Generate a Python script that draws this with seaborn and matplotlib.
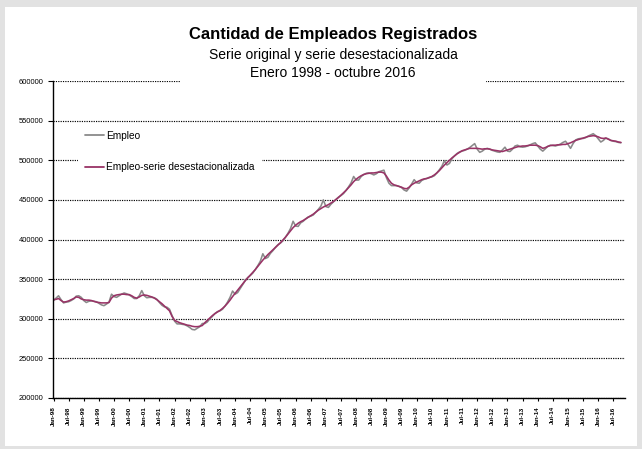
import matplotlib
matplotlib.use("Agg")
import matplotlib.pyplot as plt
import seaborn as sns
import pandas as pd
from matplotlib import font_manager
from matplotlib.patches import Rectangle
from matplotlib.ticker import FuncFormatter, FixedLocator

# ---------------- data (thousands of employees, monthly Jan-1998 .. Oct-2016) ----------------
empleo = [
    323, 326, 329, 324, 320, 321, 321.5, 323, 325, 328.5, 329, 327,            # 1998
    323, 320.5, 322, 322.5, 322, 321.5, 319.5, 317.5, 316.5, 318.5, 321, 331,  # 1999
    328, 327, 329, 331, 332.5, 331.5, 330, 328, 325.5, 325.5, 329, 335.5,      # 2000
    329, 326.5, 327, 327, 326.5, 324.5, 320.5, 317, 315, 314.5, 312, 304,      # 2001
    297, 293.5, 293.5, 293, 292.5, 291, 289, 286.5, 286, 288, 290, 294,        # 2002
    294, 296, 300, 303, 306.5, 309, 310, 312, 316, 321, 327, 335,              # 2003
    331, 333, 338, 343, 348, 352, 354.5, 357.5, 362, 367, 372.5, 382,          # 2004
    376, 377.5, 382.5, 386, 390, 393.5, 395.5, 398.5, 403, 408, 414, 423,      # 2005
    417, 416.5, 421, 423, 426, 428.5, 429.5, 431, 434.5, 438, 442, 450,        # 2006
    441.5, 440.5, 444.5, 447.5, 450.5, 453.5, 455.5, 458, 462, 466.5, 471.5, 479.5,  # 2007
    475, 475, 479.5, 482, 483.5, 484, 483, 481.5, 483, 485.5, 486.5, 487.5,    # 2008
    478, 471, 468, 468, 468, 467, 465.5, 462.5, 461, 465, 470, 475.5,          # 2009
    471.5, 471, 474.5, 476, 477, 478.5, 479, 480.5, 484, 488, 492.5, 499.5,    # 2010
    494, 496, 502, 505.5, 508.5, 510.5, 511.5, 512.5, 514, 516, 518.5, 521,    # 2011
    514, 510, 511.5, 514, 515, 514, 512.5, 511.5, 510.5, 510, 513, 516.5,      # 2012
    511.5, 511, 514, 518, 519, 517, 516.5, 517, 518, 519.5, 521, 522,          # 2013
    518, 514, 511.5, 514.5, 517.5, 519, 518.5, 518, 519, 520.5, 522.5, 524,    # 2014
    520, 515, 521, 525.5, 527, 527.5, 527.5, 528.5, 530.5, 532, 533.5, 531,    # 2015
    527, 523, 525, 528, 527, 525, 524, 523.5, 522.5, 522,                      # 2016
]

desestacionalizada = [
    324, 324.5, 325.5, 323, 321, 321.5, 322.5, 324, 325.5, 327.5, 327, 325,    # 1998
    324, 323.5, 323.5, 323, 322, 321, 320.5, 320, 320, 320, 320.5, 326,        # 1999
    329, 330, 330.5, 331, 331, 330.5, 330.5, 329, 327, 326, 327.5, 329.5,      # 2000
    330, 329.5, 328.5, 327.5, 326, 324, 321.5, 319, 316, 313, 310, 303,        # 2001
    298, 296.5, 295, 294, 293, 292, 291.5, 290.5, 290, 290, 290.5, 291.5,      # 2002
    295, 298, 301, 304, 306.5, 308.5, 310.5, 313, 316, 319.5, 323.5, 328,      # 2003
    332, 336, 340, 344, 348, 351.5, 355, 358.5, 362, 366, 370, 374,            # 2004
    377.5, 381, 384, 387, 390, 393, 396, 399.5, 403, 407, 411, 415,            # 2005
    418, 420.5, 422.5, 424, 426, 428, 430, 432, 434.5, 437, 439, 441,          # 2006
    442.5, 444, 446, 448, 450.5, 453, 456, 459, 462, 465.5, 469, 473,          # 2007
    476, 478.5, 480.5, 482, 483, 483.5, 484, 484, 484.5, 485, 485, 484,        # 2008
    480, 475, 471, 469, 468, 467, 466, 464.5, 464, 466, 469, 471,              # 2009
    472.5, 474, 475.5, 476.5, 477, 478, 479.5, 481.5, 484, 487, 490.5, 494,    # 2010
    497, 500, 503, 505.5, 508, 510, 512, 513, 514, 515, 515, 515,              # 2011
    515, 514.5, 514, 514.5, 514.5, 514, 513, 512.5, 512, 511.5, 511, 512,      # 2012
    513, 514, 515, 516, 517, 517.5, 518, 518, 518.5, 519, 519, 519,            # 2013
    518.5, 517, 515, 516, 517.5, 518.5, 519, 519, 519.5, 519.5, 520, 520,      # 2014
    521, 522, 523.5, 525, 526, 527, 528, 529, 530, 530.5, 531, 530.5,          # 2015
    529.5, 528, 527.5, 528, 526.5, 525, 524.5, 524, 523, 522.5,                # 2016
]

tick_labels = [
    "Jan-98", "Jul-98", "Jan-99", "Jul-99", "Jan-00", "Jul-00", "Jan-01", "Jul-01",
    "Jan-02", "Jul-02", "Jan-03", "Jul-03", "Jan-04", "Jul-04", "Jan-05", "Jul-05",
    "Jan-06", "Jul-06", "Jan-07", "Jul-07", "Jan-08", "Jul-08", "Jan-09", "Jul-09",
    "Jan-10", "Jul-10", "Jan-11", "Jul-11", "Jan-12", "Jul-12", "Jan-13", "Jul-13",
    "Jan-14", "Jul-14", "Jan-15", "Jul-15", "Jan-16", "Jul-16",
]

y_ticks = [200000, 250000, 300000, 350000, 400000, 450000, 500000, 550000, 600000]
series_names = ["Empleo", "Empleo-serie desestacionalizada"]
colors = {"Empleo": "#8a8a8a", "Empleo-serie desestacionalizada": "#993366"}

title = "Cantidad de Empleados Registrados"
subtitle1 = "Serie original y serie desestacionalizada"
subtitle2 = "Enero 1998 - octubre 2016"

# ---------------- build long table ----------------
rows = []
for name, vals in zip(series_names, [empleo, desestacionalizada]):
    for i, v in enumerate(vals):
        rows.append({"mes": i, "valor": v * 1000, "serie": name})
df = pd.DataFrame(rows)

# ---------------- style ----------------
sns.set_theme(style="white")
plt.rcParams["font.family"] = ["Liberation Sans", "DejaVu Sans"]
plt.rcParams["text.color"] = "black"
plt.rcParams["xtick.color"] = "black"
plt.rcParams["ytick.color"] = "black"

installed = {f.name for f in font_manager.fontManager.ttflist}
narrow = ["Liberation Sans Narrow", "Liberation Sans", "DejaVu Sans"] \
    if "Liberation Sans Narrow" in installed else ["Liberation Sans", "DejaVu Sans"]
tick_size = 5.4 if "Liberation Sans Narrow" in installed else 4.5

W, H = 642, 449
fig = plt.figure(figsize=(W / 100, H / 100), dpi=100)
fig.patch.set_facecolor("#e2e2e2")
fig.patches.append(Rectangle((5 / W, 1 - 446 / H), 632 / W, 439 / H,
                             transform=fig.transFigure, facecolor="white",
                             edgecolor="none", zorder=-1))

ax = fig.add_axes([53 / W, 1 - 398 / H, 572 / W, 317 / H])

sns.lineplot(data=df, x="mes", y="valor", hue="serie", hue_order=series_names,
             palette=colors, linewidth=1.15, ax=ax, estimator=None)

ax.set_xlim(-0.2, 226.6)
ax.set_ylim(200000, 600000)
ax.yaxis.set_major_locator(FixedLocator(y_ticks))
ax.yaxis.set_major_formatter(FuncFormatter(lambda v, p: f"{int(v)}"))
ax.set_xticks(list(range(0, 6 * len(tick_labels), 6)))
ax.set_xticklabels(tick_labels, rotation=90, fontweight="bold", fontsize=tick_size,
                   family=narrow, color="black")
ax.set_xlabel("")
ax.set_ylabel("")

ax.yaxis.grid(True, color="black", linestyle=(0, (1, 1)), linewidth=0.85)
ax.xaxis.grid(False)
for s in ["top", "right"]:
    ax.spines[s].set_visible(False)
for s in ["left", "bottom"]:
    ax.spines[s].set_color("black")
    ax.spines[s].set_linewidth(1.0)
ax.tick_params(axis="y", length=3.5, width=0.8, color="black", labelsize=5.4, pad=3.5,
               left=True, direction="out", labelcolor="black")
ax.tick_params(axis="x", length=2, width=0.8, color="black", pad=4, bottom=True,
               direction="out")

handles, labels = ax.get_legend_handles_labels()
leg = ax.legend(handles, labels, loc="upper left", bbox_to_anchor=(0.035, 0.882),
                frameon=True, facecolor="white", edgecolor="none", framealpha=1,
                fancybox=False, fontsize=7.3, labelspacing=2.15, handlelength=1.9,
                handletextpad=0.15, borderpad=0.7)
for line in leg.get_lines():
    line.set_linewidth(1.3)
for t in leg.get_texts():
    t.set_color("black")

# title block with white background
fig.patches.append(Rectangle((181 / W, 1 - 86 / H), 305 / W, 66 / H,
                             transform=fig.transFigure, facecolor="white",
                             edgecolor="none", zorder=2))
fig.text(333 / W, 1 - 35 / H, title, ha="center", va="center", fontsize=12,
         fontweight="bold", zorder=3, color="black")
fig.text(333 / W, 1 - 55 / H, subtitle1, ha="center", va="center", fontsize=10,
         zorder=3, color="black")
fig.text(333 / W, 1 - 73 / H, subtitle2, ha="center", va="center", fontsize=10,
         zorder=3, color="black")

fig.savefig("out.png", dpi=100, facecolor=fig.get_facecolor())
